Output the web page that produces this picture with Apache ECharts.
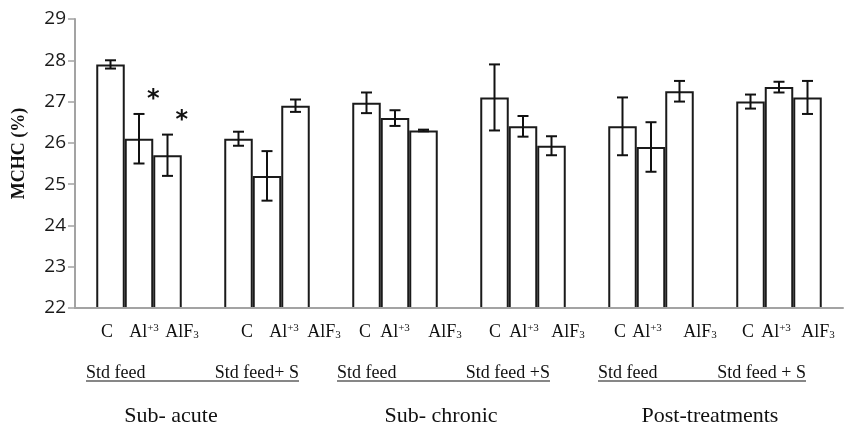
<!DOCTYPE html>
<html lang="en">
<head>
<meta charset="UTF-8">
<title>MCHC</title>
<script src="https://cdn.jsdelivr.net/npm/echarts@6/dist/echarts.min.js"></script>
<style>
    *{
        padding:0;
        margin:0;
    }
    html,body{
        width:851px;
        height:430px;
        background:#fff;
    }
    #main{
        width:851px;
        height:430px;
    }
</style>
</head>
<body>
<div id="main"></div>
<script>
    // one entry per bar group (period / feed)
    var groups = ['Sub- acute Std feed', 'Sub- acute Std feed+ S', 'Sub- chronic Std feed',
                  'Sub- chronic Std feed +S', 'Post-treatments Std feed', 'Post-treatments Std feed + S'];
    var treatments = ['C', 'Al+3', 'AlF3'];

    var meanC   = [27.9, 26.1, 26.97, 27.1, 26.4, 27.0];
    var meanAl  = [26.1, 25.2, 26.6, 26.4, 25.9, 27.35];
    var meanAlF = [25.7, 26.9, 26.3, 25.93, 27.25, 27.1];

    var sdC   = [0.1, 0.17, 0.25, 0.8, 0.7, 0.17];
    var sdAl  = [0.6, 0.6, 0.19, 0.25, 0.6, 0.13];
    var sdAlF = [0.5, 0.15, 0.02, 0.23, 0.25, 0.4];

    // [group, treatment] marked with *
    var significant = [[0, 1], [0, 2]];

    var yTicks = [22, 23, 24, 25, 26, 27, 28, 29];

    var feedLabels = [['Std feed', 'Std feed+ S'], ['Std feed', 'Std feed +S'], ['Std feed', 'Std feed + S']];
    var periodLabels = ['Sub- acute', 'Sub- chronic', 'Post-treatments'];

    var BAR_W = 28.5;
    var CAP = 5.5;
    var SERIF = '"Liberation Serif", "Times New Roman", serif';

    var means = [meanC, meanAl, meanAlF];
    var sds = [sdC, sdAl, sdAlF];

    var errData = [];
    for (var s = 0; s < 3; s++) {
        for (var g = 0; g < groups.length; g++) {
            errData.push([g, s, means[s][g], sds[s][g]]);
        }
    }
    var starData = significant.map(function (p) {
        return [p[0], p[1], means[p[1]][p[0]] + sds[p[1]][p[0]]];
    });

    function renderErr(params, api) {
        var g = api.value(0), s = api.value(1), m = api.value(2), sd = api.value(3);
        var cx = api.coord([g, m])[0] + (s - 1) * BAR_W;
        var y1 = api.coord([g, m + sd])[1];
        var y2 = api.coord([g, m - sd])[1];
        var st = {stroke: '#111', lineWidth: 2, fill: null};
        return {
            type: 'group',
            children: [
                {type: 'line', shape: {x1: cx, y1: y1, x2: cx, y2: y2}, style: st},
                {type: 'line', shape: {x1: cx - CAP, y1: y1, x2: cx + CAP, y2: y1}, style: st},
                {type: 'line', shape: {x1: cx - CAP, y1: y2, x2: cx + CAP, y2: y2}, style: st}
            ]
        };
    }

    function renderStar(params, api) {
        var g = api.value(0), s = api.value(1), top = api.value(2);
        var p = api.coord([g, top]);
        return {
            type: 'text',
            x: p[0] + (s - 1) * BAR_W + BAR_W / 2,
            y: p[1] - 14,
            style: {
                text: '*',
                font: 'bold 24px "DejaVu Sans", sans-serif',
                fill: '#111',
                align: 'center',
                verticalAlign: 'middle'
            }
        };
    }

    // bottom text rows
    var tokenX = [[107, 144, 182], [247, 284, 324], [365, 395, 445], [495, 524, 568], [620, 647, 700], [748, 776, 818]];
    var rich = {
        n: {font: '18px ' + SERIF, fill: '#111'},
        sup: {font: '11px ' + SERIF, fill: '#111', verticalAlign: 'top', padding: [0, 0, 7, 0]},
        sub: {font: '11px ' + SERIF, fill: '#111', verticalAlign: 'bottom', padding: [6, 0, 0, 0]}
    };
    var tokenText = ['{n|C}', '{n|Al}{sup|+3}', '{n|AlF}{sub|3}'];
    var graphics = [];
    tokenX.forEach(function (xs) {
        xs.forEach(function (x, i) {
            graphics.push({
                type: 'text', x: x, y: 332,
                style: {text: tokenText[i], rich: rich, align: 'center', verticalAlign: 'middle'}
            });
        });
    });

    var feedSpan = [[86, 299], [337, 550], [598, 806]];
    feedLabels.forEach(function (pair, k) {
        graphics.push({
            type: 'text', x: feedSpan[k][0], y: 373,
            style: {text: pair[0], font: '18px ' + SERIF, fill: '#111', align: 'left', verticalAlign: 'middle'}
        });
        graphics.push({
            type: 'text', x: feedSpan[k][1], y: 373,
            style: {text: pair[1], font: '18px ' + SERIF, fill: '#111', align: 'right', verticalAlign: 'middle'}
        });
        graphics.push({
            type: 'line',
            shape: {x1: feedSpan[k][0], y1: 381, x2: feedSpan[k][1], y2: 381},
            style: {stroke: '#111', lineWidth: 1.2}
        });
    });

    var periodX = [171, 441, 710];
    periodLabels.forEach(function (t, k) {
        graphics.push({
            type: 'text', x: periodX[k], y: 416,
            style: {text: t, font: '22px ' + SERIF, fill: '#111', align: 'center', verticalAlign: 'middle'}
        });
    });

    var barStyle = {color: '#fff', borderColor: '#1a1a1a', borderWidth: 2};

    var myChart = echarts.init(document.getElementById('main'));
    var option = {
        animation: false,
        backgroundColor: '#fff',
        grid: {left: 75, right: 8, top: 19, bottom: 122},
        xAxis: {
            type: 'category',
            data: groups,
            z: 5,
            axisLine: {lineStyle: {color: '#a3a3a3', width: 2}},
            axisTick: {show: false},
            axisLabel: {show: false}
        },
        yAxis: {
            type: 'value',
            min: yTicks[0],
            max: yTicks[yTicks.length - 1],
            interval: 1,
            name: 'MCHC (%)',
            nameLocation: 'middle',
            nameGap: 47,
            nameTextStyle: {fontFamily: SERIF, fontWeight: 'bold', fontSize: 18, color: '#111', padding: [0, 0, 0, 20]},
            axisLine: {show: true, lineStyle: {color: '#a3a3a3', width: 2}},
            axisTick: {show: true, length: 7, lineStyle: {color: '#a3a3a3', width: 1.5}},
            splitLine: {show: false},
            axisLabel: {fontFamily: '"Open Sans", sans-serif', fontSize: 19, color: '#1a1a1a', margin: 9}
        },
        graphic: graphics,
        series: [
            {name: treatments[0], type: 'bar', data: meanC, barWidth: BAR_W, barGap: 0, itemStyle: barStyle},
            {name: treatments[1], type: 'bar', data: meanAl, barWidth: BAR_W, barGap: 0, itemStyle: barStyle},
            {name: treatments[2], type: 'bar', data: meanAlF, barWidth: BAR_W, barGap: 0, itemStyle: barStyle},
            {type: 'custom', renderItem: renderErr, data: errData, encode: {x: 0, y: 2}, z: 4},
            {type: 'custom', renderItem: renderStar, data: starData, encode: {x: 0, y: 2}, z: 4}
        ]
    };
    myChart.setOption(option);
</script>
</body>
</html>
